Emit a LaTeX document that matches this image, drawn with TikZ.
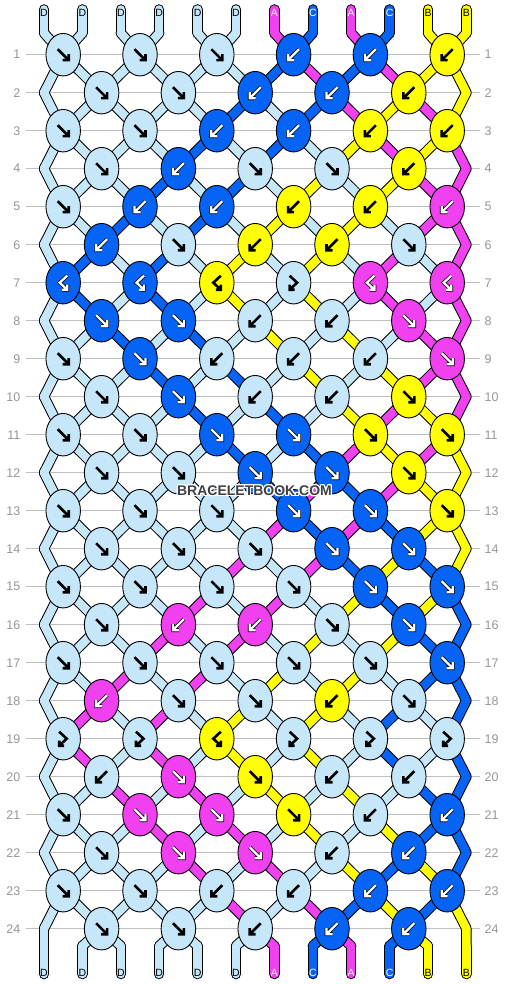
\documentclass[tikz,border=0pt]{standalone}
\usepackage{fontspec}
\setmainfont{Liberation Sans}
\usepackage{contour}
\usetikzlibrary{shapes.geometric}
\definecolor{thrD}{RGB}{198,230,250}
\definecolor{thrA}{RGB}{240,64,240}
\definecolor{thrC}{RGB}{5,100,245}
\definecolor{thrB}{RGB}{255,255,0}
\colorlet{lblD}{black}
\colorlet{lblB}{black}
\colorlet{lblA}{white}
\colorlet{lblC}{white}
\definecolor{rowgray}{RGB}{190,190,190}
\definecolor{numgray}{RGB}{150,150,150}
\definecolor{logogray}{RGB}{64,64,64}
\pgfdeclarelayer{grid}
\pgfdeclarelayer{threads}
\pgfsetlayers{grid,threads,main}
\contourlength{1.2pt}

\tikzset{
  glyphD/.style={draw=black, line width=2.6pt},
  glyphB/.style={glyphD},
  glyphA/.style={draw=white, line width=2.3pt, preaction={draw=black, line width=3.7pt}},
  glyphC/.style={glyphA},
  pics/f/.style={code={\path[glyph#1] (-5.5,-5.5) -- (5.5,5.5) (5.5,-0.5) -- (5.5,5.5) -- (-0.5,5.5);}},
  pics/b/.style={code={\path[glyph#1] (5.5,-5.5) -- (-5.5,5.5) (-5.5,-0.5) -- (-5.5,5.5) -- (0.5,5.5);}},
  pics/fb/.style={code={\path[glyph#1] (-4,-7) -- (3.5,0) -- (-4,7) (-4,2) -- (-4,7) -- (1,7);}},
  pics/bf/.style={code={\path[glyph#1] (4,-7) -- (-3.5,0) -- (4,7) (4,2) -- (4,7) -- (-1,7);}},
}

% thread colours after each row (row 0 = top)
\def\states{
  {D,D,D,D,D,D,A,C,A,C,B,B},{D,D,D,D,D,D,C,A,C,A,B,B},{D,D,D,D,D,C,D,C,A,B,A,B},
  {D,D,D,D,C,D,C,D,B,A,B,A},{D,D,D,C,D,C,D,B,D,B,A,A},{D,D,C,D,C,D,B,D,B,D,A,A},
  {D,C,D,C,D,B,D,B,D,A,D,A},{D,C,D,C,D,B,D,B,D,A,D,A},{D,D,C,D,C,D,B,D,B,D,A,A},
  {D,D,D,C,D,C,D,B,D,B,A,A},{D,D,D,D,C,D,C,D,B,A,B,A},{D,D,D,D,D,C,D,C,A,B,A,B},
  {D,D,D,D,D,D,C,A,C,A,B,B},{D,D,D,D,D,D,A,C,A,C,B,B},{D,D,D,D,D,A,D,A,C,B,C,B},
  {D,D,D,D,A,D,A,D,B,C,B,C},{D,D,D,A,D,A,D,B,D,B,C,C},{D,D,A,D,A,D,B,D,B,D,C,C},
  {D,A,D,A,D,B,D,B,D,C,D,C},{D,A,D,A,D,B,D,B,D,C,D,C},{D,D,A,D,A,D,B,D,B,D,C,C},
  {D,D,D,A,D,A,D,B,D,B,C,C},{D,D,D,D,A,D,A,D,B,C,B,C},{D,D,D,D,D,A,D,A,C,B,C,B},
  {D,D,D,D,D,D,A,C,A,C,B,B}}
% knot type / knot colour, row by row
\def\knotrows{
  {f/D,f/D,f/D,b/C,b/C,b/B},{f/D,f/D,b/C,b/C,b/B},{f/D,f/D,b/C,b/C,b/B,b/B},
  {f/D,b/C,f/D,f/D,b/B},{f/D,b/C,b/C,b/B,b/B,b/A},{b/C,f/D,b/B,b/B,f/D},
  {bf/C,bf/C,bf/B,fb/D,bf/A,bf/A},{f/C,f/C,b/D,b/D,f/A},{f/D,f/C,b/D,b/D,b/D,f/A},
  {f/D,f/C,b/D,b/D,f/B},{f/D,f/D,f/C,f/C,f/B,f/B},{f/D,f/D,f/C,f/C,f/B},
  {f/D,f/D,f/D,f/C,f/C,f/B},{f/D,f/D,f/D,f/C,f/C},{f/D,f/D,f/D,f/D,f/C,f/C},
  {f/D,b/A,b/A,f/D,f/C},{f/D,f/D,f/D,f/D,f/D,f/C},{b/A,f/D,f/D,b/B,f/D},
  {fb/D,fb/D,bf/B,fb/D,fb/D,fb/D},{b/D,f/A,f/B,b/D,b/D},{f/D,f/A,f/A,f/B,b/D,b/C},
  {f/D,f/A,f/A,b/D,b/C},{f/D,f/D,b/D,b/D,b/C,b/C},{f/D,f/D,b/D,b/C,b/C}}

\begin{document}
\begin{tikzpicture}[x=1pt,y=-1pt,
    knot/.style={ellipse, draw=black, line width=0.9pt, minimum width=34.5pt,
      minimum height=42.5pt, inner sep=0pt},
    threadout/.style={draw=black, line width=10.5pt, line cap=round, line join=round},
    threadin/.style={draw=thr#1, line width=8.5pt, line cap=round, line join=round},
    rowline/.style={draw=rowgray, line width=1pt},
    rownum/.style={text=numgray, inner sep=0pt, font=\fontsize{12.5}{14}\selectfont},
    endlabel/.style={inner sep=0pt, font=\fontsize{10.5}{12}\selectfont},
    logo/.style={text=logogray, inner sep=0pt, font=\bfseries\fontsize{14}{16}\selectfont}]
  \useasboundingbox (0,0) rectangle (506,984);

  % rows
  \begin{pgfonlayer}{grid}
    \foreach \r in {1,...,24}{
      \pgfmathsetmacro\ky{54.7+38*(\r-1)}
      \draw[rowline] (26,\ky) -- (480,\ky);
      \node[rownum, anchor=east] (nl-\r) at (20.5,\ky) {\r};
      \node[rownum, anchor=west] (nr-\r) at (484.5,\ky) {\r};
    }
  \end{pgfonlayer}

  % knots
  \foreach \knots [count=\r] in \knotrows{
    \pgfmathsetmacro\ky{54.7+38*(\r-1)}
    \pgfmathsetmacro\kx{isodd(\r) ? 63.2 : 101.6}
    \foreach \t/\c [count=\k] in \knots{
      \node[knot, fill=thr\c] (k-\r-\k) at ({\kx+76.8*(\k-1)},\ky) {};
      \edef\glyphcmd{\noexpand\pic at (k-\r-\k) {\t=\c};}\glyphcmd
    }
    \foreach \i in {1,...,12}{
      \ifodd\r
        \pgfmathtruncatemacro\kk{(\i+1)/2}
        \coordinate (p-\r-\i) at (k-\r-\kk);
      \else
        \pgfmathtruncatemacro\kk{\i/2}
        \ifnum\i=1 \coordinate (p-\r-\i) at (44,\ky);
        \else\ifnum\i=12 \coordinate (p-\r-\i) at (466.4,\ky);
        \else \coordinate (p-\r-\i) at (k-\r-\kk);
        \fi\fi
      \fi
    }
  }

  % string ends
  \foreach \c [count=\i] in {D,D,D,D,D,D,A,C,A,C,B,B}{
    \pgfmathsetmacro\sx{44+38.4*(\i-1)}
    \coordinate (t-\i) at (\sx,9.5);
    \coordinate (p-0-\i) at (\sx,33);
    \coordinate (p-25-\i) at (\sx,946);
    \coordinate (b-\i) at (\sx,974);
    \node[endlabel, text=lbl\c] (tl-\i) at (\sx,12.5) {\c};
    \node[endlabel, text=lbl\c] (bl-\i) at (\sx,972.5) {\c};
  }

  % threads
  \begin{pgfonlayer}{threads}
    \foreach \lay in {out,in}{
      \foreach \c [count=\i] in {D,D,D,D,D,D,A,C,A,C,B,B}{
        \draw[thread\lay=\c] (t-\i) -- (p-0-\i);
        \draw[thread\lay=\c] (p-25-\i) -- (b-\i);
      }
      \foreach \st [count=\r from 0] in \states{
        \pgfmathtruncatemacro\rn{\r+1}
        \foreach \c [count=\i] in \st{
          \draw[thread\lay=\c] (p-\r-\i) -- (p-\rn-\i);
        }
      }
    }
  \end{pgfonlayer}

  \node[logo] (logo) at (254.5,491.5) {\contour{white}{BRACELETBOOK.COM}};
\end{tikzpicture}
\end{document}
